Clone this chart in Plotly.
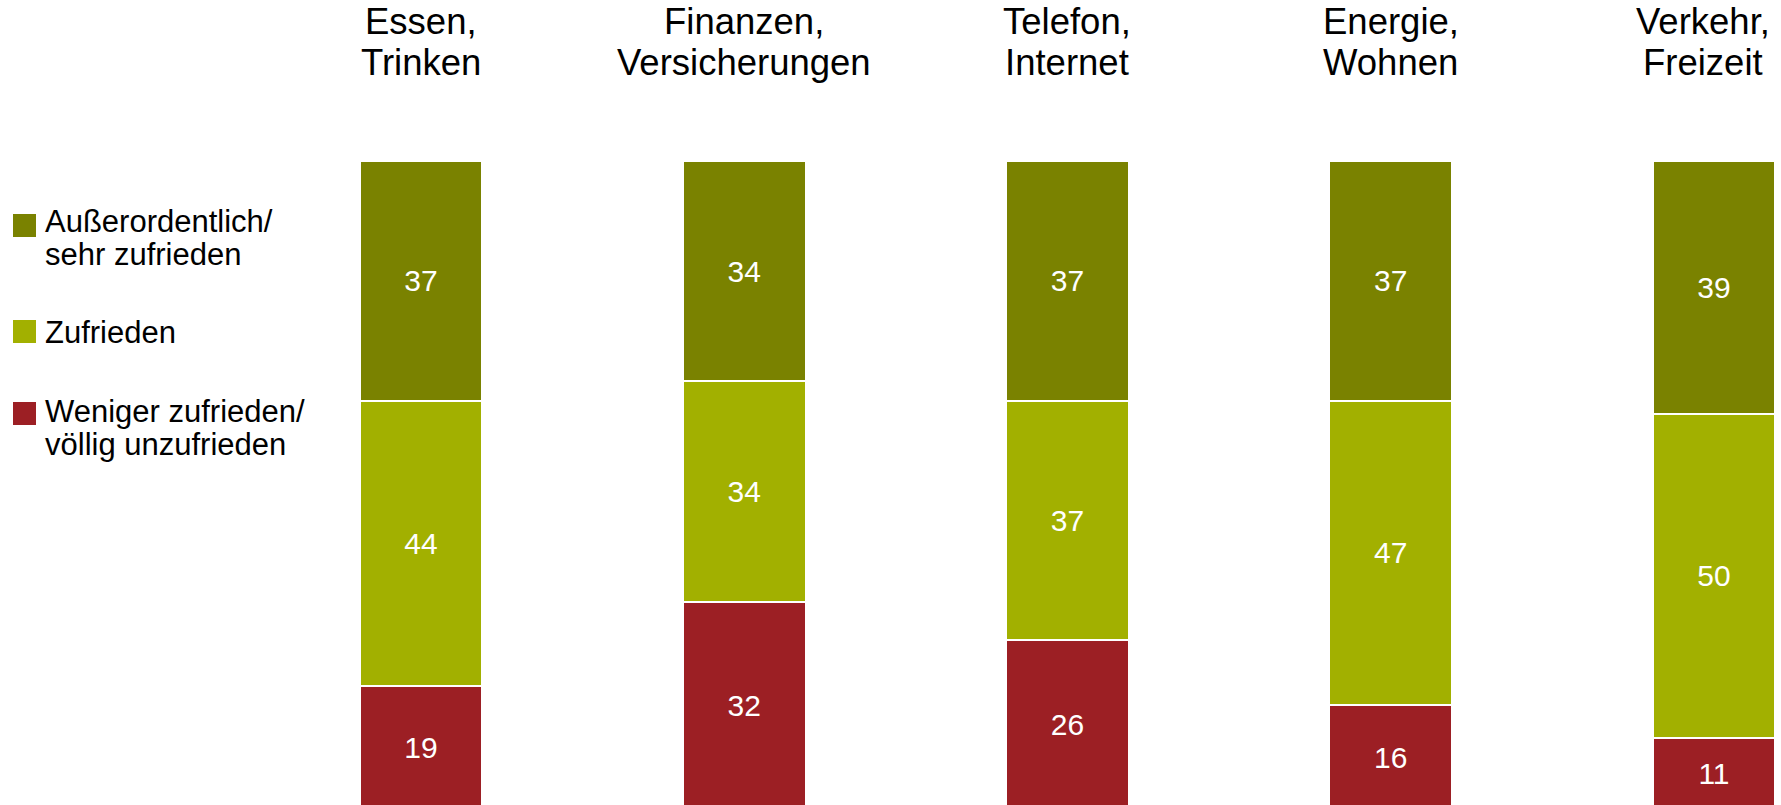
import plotly.graph_objects as go

# --- data -----------------------------------------------------------------
categories = ["Essen, Trinken", "Finanzen, Versicherungen", "Telefon, Internet",
              "Energie, Wohnen", "Verkehr, Freizeit"]
category_titles = [["Essen,", "Trinken"], ["Finanzen,", "Versicherungen"],
                   ["Telefon,", "Internet"], ["Energie,", "Wohnen"],
                   ["Verkehr,", "Freizeit"]]

# stacked from bottom to top
weniger_zufrieden = [19, 32, 26, 16, 11]
zufrieden = [44, 34, 37, 47, 50]
sehr_zufrieden = [37, 34, 37, 37, 39]

series_names = [["Außerordentlich/", "sehr zufrieden"], ["Zufrieden"],
                ["Weniger zufrieden/", "völlig unzufrieden"]]
series_colors = ["#7A8200", "#A2B000", "#9C1F24"]

# --- canvas geometry --------------------------------------------------------
W, H = 1781, 805
ML, MR, MT, MB = 300, 0, 161, 0
FONT = "Liberation Sans, Arial, sans-serif"


def paper_x(px):
    return (px - ML) / (W - ML - MR)


def paper_y(py):
    return (H - MB - py) / (H - MT - MB)


fig = go.Figure()

stack = [
    (weniger_zufrieden, series_names[2], series_colors[2]),
    (zufrieden, series_names[1], series_colors[1]),
    (sehr_zufrieden, series_names[0], series_colors[0]),
]
for values, name, color in stack:
    fig.add_trace(go.Bar(
        x=categories,
        y=values,
        name=" ".join(name),
        width=0.379,
        marker=dict(color=color, line=dict(color="white", width=2)),
        texttemplate="%{y}",
        textposition="inside",
        insidetextanchor="middle",
        textangle=0,
        constraintext="none",
        textfont=dict(family=FONT, size=30, color="white"),
        showlegend=False,
    ))

annotations = []
# category headings above each column (two lines each); the last heading is
# nudged left so it stays clear of the right edge
for i, (cat, lines) in enumerate(zip(categories, category_titles)):
    shift = -11 if i == len(categories) - 1 else 0
    for line, baseline in zip(lines, [34, 75]):
        annotations.append(dict(
            x=cat, xref="x", y=paper_y(baseline - 12.6), yref="paper",
            xshift=shift,
            text=line, showarrow=False, xanchor="center", yanchor="middle",
            font=dict(family=FONT, size=36.5, color="black"),
            borderpad=0, borderwidth=0,
        ))

# legend on the left
legend_rows = [
    (series_names[0], series_colors[0], 214, [232, 265]),
    (series_names[1], series_colors[1], 320, [343]),
    (series_names[2], series_colors[2], 402, [422, 455]),
]
shapes = []
for lines, color, sq_top, baselines in legend_rows:
    shapes.append(dict(
        type="rect", xref="paper", yref="paper",
        x0=paper_x(13), x1=paper_x(36), y0=paper_y(sq_top + 23), y1=paper_y(sq_top),
        fillcolor=color, line=dict(width=0),
    ))
    for line, baseline in zip(lines, baselines):
        annotations.append(dict(
            x=paper_x(45), xref="paper", y=paper_y(baseline - 10.7), yref="paper",
            text=line, showarrow=False, xanchor="left", yanchor="middle",
            font=dict(family=FONT, size=31, color="black"),
            borderpad=0, borderwidth=0,
        ))

fig.update_layout(
    width=W, height=H,
    margin=dict(l=ML, r=MR, t=MT, b=MB, pad=0),
    barmode="stack",
    plot_bgcolor="white", paper_bgcolor="white",
    xaxis=dict(visible=False, range=[-0.3743, 4.2073],
               categoryorder="array", categoryarray=categories),
    yaxis=dict(visible=False, range=[0.6, 100]),
    annotations=annotations,
    shapes=shapes,
    uniformtext=dict(mode=False),
)

fig.write_html("out.html")
